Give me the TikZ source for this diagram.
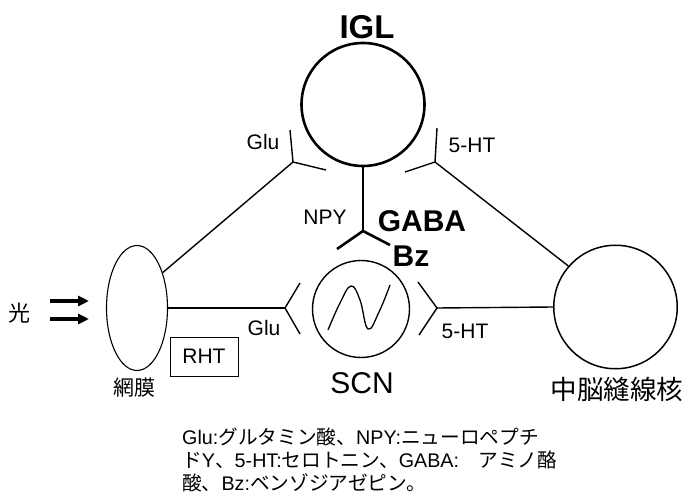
\documentclass[tikz,border=0pt]{standalone}
\usepackage{fontspec}
\setmainfont{Liberation Sans}
\newfontfamily\cjk{Noto Sans CJK JP}
\usetikzlibrary{arrows.meta,shapes.geometric}
\begin{document}
\begin{tikzpicture}[x=1pt,y=-1pt,
  conn/.style={line width=1.4pt},
  thickconn/.style={line width=2.6pt},
  lbl/.style={inner sep=0pt,font=\fontsize{21}{21}\selectfont},
  biglbl/.style={inner sep=0pt,font=\fontsize{30}{30}\selectfont\bfseries},
  jlbl/.style={inner sep=0pt},
  captxt/.style={inner sep=0pt,anchor=west,font=\fontsize{19.7}{22}\selectfont},
  lightarrow/.style={line width=3.2pt,-{Triangle[length=11pt,width=10pt]}}]
\useasboundingbox (0,0) rectangle (688,497);

% nuclei
\node[draw,circle,line width=2.6pt,minimum size=123pt,inner sep=0pt] (igl) at (363,104.5) {};
\node[draw,circle,line width=1.4pt,minimum size=97pt,inner sep=0pt] (scn) at (361,309) {};
\node[draw,circle,line width=1.5pt,minimum size=123.5pt,inner sep=0pt] (raphe) at (615.5,307) {};
\node[draw,ellipse,line width=1.1pt,minimum width=61pt,minimum height=125pt,inner sep=0pt] (ret) at (137,308) {};

% synapse junctions and arm ends
\coordinate (gluJ) at (293,162);
\coordinate (gluJa) at (290,130);
\coordinate (gluJb) at (326,170);
\coordinate (htJ) at (435,162);
\coordinate (htJa) at (437,128);
\coordinate (htJb) at (405,172);
\coordinate (gluS) at (285,308);
\coordinate (gluSa) at (300,283);
\coordinate (gluSb) at (300,334);
\coordinate (htS) at (437,308);
\coordinate (htSa) at (418,282);
\coordinate (htSb) at (419,335);
\coordinate (npyJ) at (363,231);
\coordinate (npyJa) at (337,249);
\coordinate (npyJb) at (390,245);

% connectors
\draw[conn] (ret.54) -- (gluJ);
\draw[conn] (gluJa) -- (gluJ) -- (gluJb);
\draw[conn] (raphe.139) -- (htJ);
\draw[conn] (htJa) -- (htJ) -- (htJb);
\draw[conn] (ret.east) -- (gluS);
\draw[conn] (gluSa) -- (gluS) -- (gluSb);
\draw[conn] (raphe.west) -- (htS);
\draw[conn] (htSa) -- (htS) -- (htSb);
\draw[thickconn] (igl.south) -- (npyJ);
\draw[thickconn] (npyJa) -- (npyJ) -- (npyJb);

% rhythm curve in SCN
\draw[line width=1.3pt] plot[smooth,tension=0.7] coordinates {(328,330) (340,303) (351,286) (360,300) (368,329) (379,312) (390,285)};

% light arrows
\coordinate (la1) at (50,301); \coordinate (lb1) at (89,301);
\coordinate (la2) at (50,319); \coordinate (lb2) at (89,319);
\draw[lightarrow] (la1) -- (lb1);
\draw[lightarrow] (la2) -- (lb2);

% labels
\node[inner sep=0pt,font=\fontsize{33}{33}\selectfont\bfseries] (tigl) at (367,27.5) {IGL};
\node[lbl] (tglu1) at (263,142) {Glu};
\node[lbl] (tht1) at (472,145) {5-HT};
\node[lbl] (tnpy) at (325,217) {NPY};
\node[biglbl] (tgaba) at (422,221) {GABA};
\node[biglbl] (tbz) at (411,256) {Bz};
\node[inner sep=0pt,font=\fontsize{30}{30}\selectfont] (tscn) at (362,383) {SCN};
\node[lbl] (tht2) at (465,331) {5-HT};
\node[lbl] (tglu2) at (264,328) {Glu};
\node[jlbl,font=\fontsize{26.5}{26.5}\selectfont\cjk] (traphe) at (617,389) {中脳縫線核};
\node[jlbl,font=\fontsize{21}{21}\selectfont\cjk] (tret) at (134,388) {網膜};
\node[jlbl,font=\fontsize{22}{22}\selectfont\cjk] (tlight) at (20,313) {光};
\node[draw,line width=1pt,minimum width=68pt,minimum height=39pt,inner sep=0pt,font=\fontsize{21}{21}\selectfont] (rht) at (204,356.5) {RHT};

% caption
\node[captxt] (c1) at (182,437) {Glu:{\cjk グルタミン酸、}NPY:{\cjk ニューロペプチ}};
\node[captxt] (c2) at (182,460) {{\cjk ド}Y{\cjk 、}5-HT:{\cjk セロトニン、}GABA:{\cjk 　アミノ酪}};
\node[captxt] (c3) at (182,483) {{\cjk 酸、}Bz:{\cjk ベンゾジアゼピン。}};
\end{tikzpicture}
\end{document}
